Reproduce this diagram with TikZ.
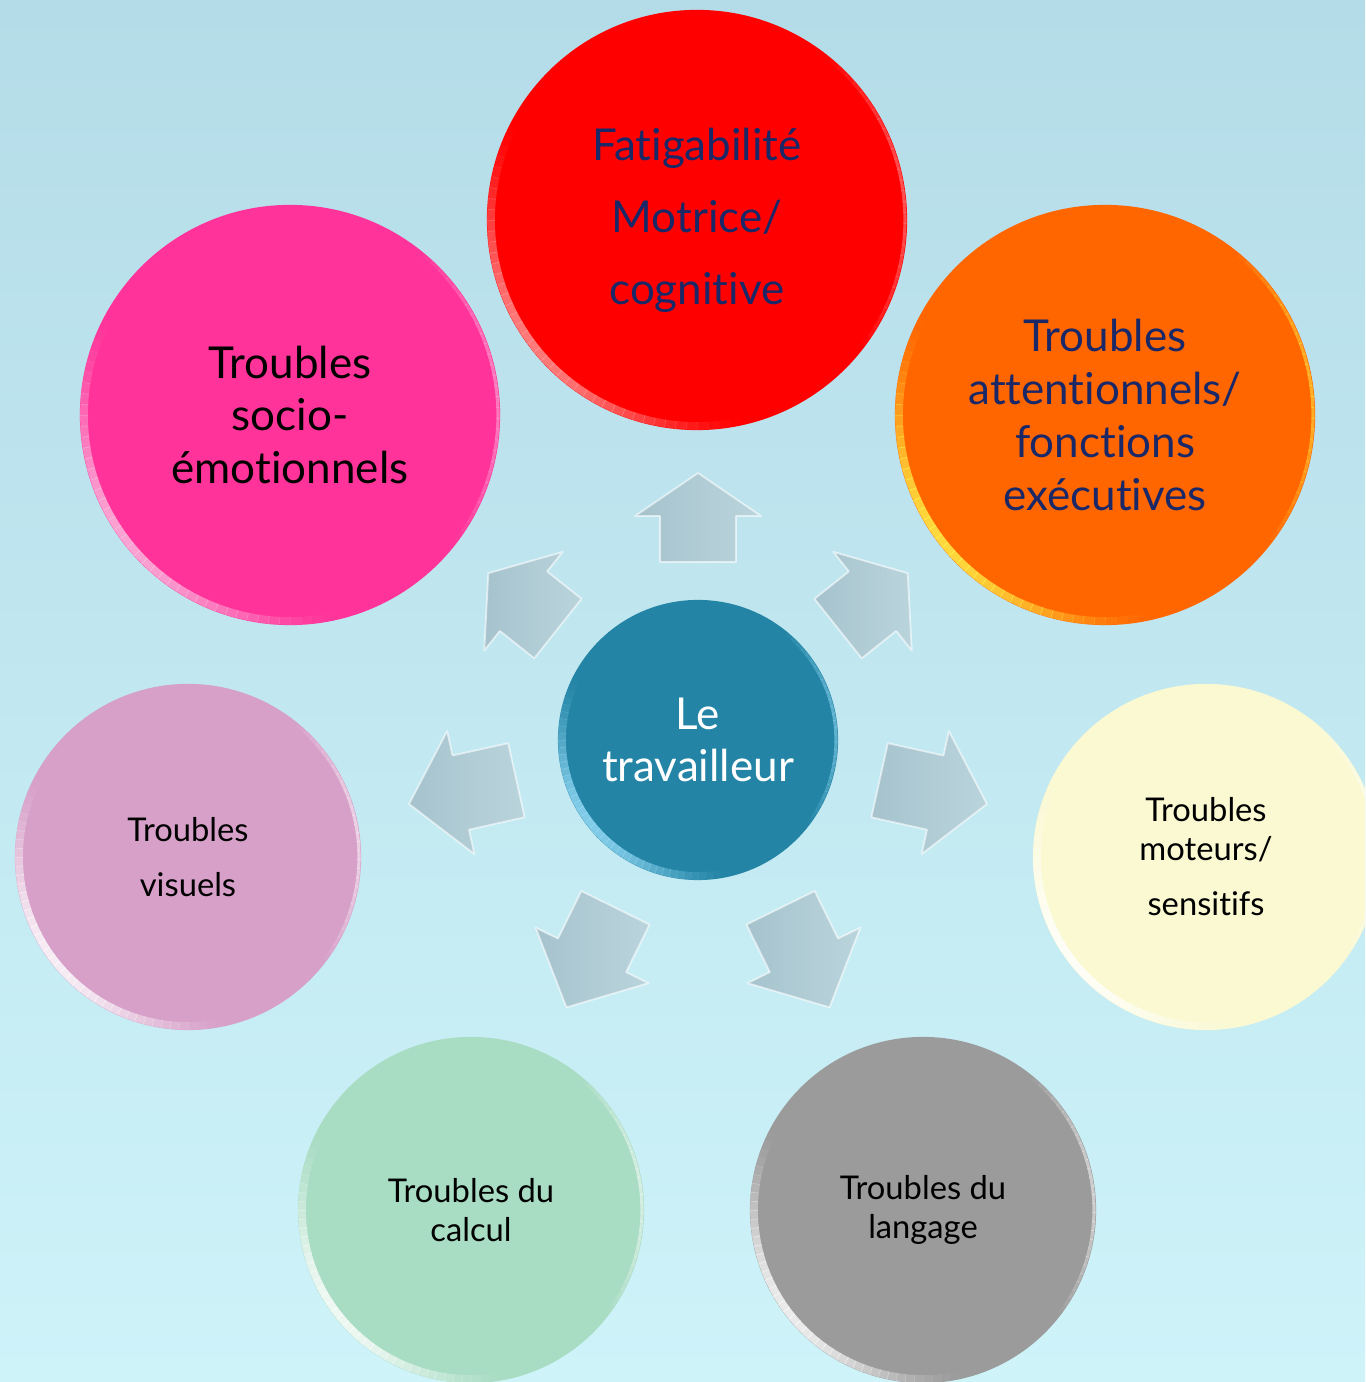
\documentclass[tikz,border=0pt]{standalone}
\usepackage{fontspec}
\setmainfont{Lato}[RawFeature={-liga;-dlig}]
\usetikzlibrary{calc}

\definecolor{bgtop}{RGB}{180,220,232}
\definecolor{bgbot}{RGB}{206,243,249}
\definecolor{navy}{RGB}{26,40,104}
\definecolor{cred}{RGB}{255,0,0}
\definecolor{cpink}{RGB}{255,51,153}
\definecolor{corange}{RGB}{255,102,0}
\definecolor{cteal}{RGB}{35,132,165}
\definecolor{cmauve}{RGB}{215,160,201}
\definecolor{cpale}{RGB}{250,249,210}
\definecolor{cmint}{RGB}{168,220,195}
\definecolor{cgrey}{RGB}{155,155,155}
\definecolor{arrdark}{RGB}{166,195,205}
\definecolor{arrlight}{RGB}{186,212,220}

\newcommand\bigtxt{\fontsize{12.5}{15}\selectfont}
\newcommand\smalltxt{\fontsize{9.3}{11.1}\selectfont}

\tikzset{
  bubble/.style={circle, inner sep=0pt, align=center},
  blockarrow/.style={left color=arrdark, right color=arrlight,
    draw=white, draw opacity=0.6, line width=0.5pt, line join=round},
}

% block arrow pointing away from the hub: angle, start distance, length, head length
\newcommand\outarrow[4]{%
  \begin{scope}[shift={(hub.center)}, rotate=#1]
    \path[blockarrow] (#2,-38) -- ({#2+#3-#4},-38) -- ({#2+#3-#4},-63)
      -- ({#2+#3},0) -- ({#2+#3-#4},63) -- ({#2+#3-#4},38) -- (#2,38) -- cycle;
  \end{scope}}

% glossy rim on a bubble, fading in and out along the edge: node, radius, highlight colour
\newcommand\glossrim[3]{%
  \begin{scope}[shift={(#1.center)}]
    \foreach \a in {150,153,...,279} {
      \pgfmathsetmacro\op{0.8*sin((\a-150)/132*180)^1.5}
      \draw[#3, line width=2.2pt, opacity=\op, line cap=butt]
        (\a:{#2-4}) arc[start angle=\a, end angle=\a+3.2, radius=#2-4];
    }
    \foreach \a in {-40,-37,...,47} {
      \pgfmathsetmacro\op{0.5*sin((\a+40)/90*180)}
      \draw[#3, line width=0.9pt, opacity=\op, line cap=butt]
        (\a:{#2-2}) arc[start angle=\a, end angle=\a+3.2, radius=#2-2];
    }
  \end{scope}}

\begin{document}
\begin{tikzpicture}[x=0.01cm, y=0.01cm]
\useasboundingbox (0,0) rectangle (1365,1382);
\clip (0,0) rectangle (1365,1382);

% background
\shade[top color=bgtop, bottom color=bgbot] (0,0) rectangle (1365,1382);

% bubbles
\node[bubble, fill=cteal, minimum size=2.8cm, text=white, font=\bigtxt] (hub) at (698,642)
  {Le\\travailleur};
\node[bubble, fill=cred, minimum size=4.2cm, text=navy, font=\bigtxt] (fatigue) at (697,1162)
  {Fatigabilité\\[5.5pt]Motrice/\\[5.5pt]cognitive};
\node[bubble, fill=corange, minimum size=4.2cm, text=navy, font=\bigtxt] (attention) at (1105,967)
  {Troubles\\attentionnels/\\fonctions\\exécutives};
\node[bubble, fill=cpink, minimum size=4.2cm, text=black, font=\bigtxt] (socio) at (290,967)
  {Troubles\\socio-\\émotionnels};
\node[bubble, fill=cmauve, minimum size=3.46cm, text=black, font=\smalltxt] (visuels) at (188,525)
  {Troubles\\[4.5pt]visuels};
\node[bubble, fill=cpale, minimum size=3.46cm, text=black, font=\smalltxt] (moteurs) at (1206,525)
  {Troubles\\moteurs/\\[4.5pt]sensitifs};
\node[bubble, fill=cmint, minimum size=3.46cm, text=black, font=\smalltxt] (calcul) at (471,172)
  {Troubles du\\calcul};
\node[bubble, fill=cgrey, minimum size=3.46cm, text=black, font=\smalltxt] (langage) at (923,172)
  {Troubles du\\langage};

% glossy rims
\glossrim{hub}{140}{cyan!40!white}
\glossrim{fatigue}{210}{red!40!white}
\glossrim{attention}{210}{yellow!70!white}
\glossrim{socio}{210}{magenta!25!white}
\glossrim{visuels}{173}{white}
\glossrim{moteurs}{173}{white}
\glossrim{calcul}{173}{white}
\glossrim{langage}{173}{white}

% arrows from the hub towards each bubble
\outarrow{90}{178}{89}{43}
\outarrow{38.5}{179}{89}{45}
\outarrow{141.5}{179}{89}{45}
\outarrow{-12.5}{186}{110}{53}
\outarrow{192.5}{186}{110}{53}
\outarrow{-63.8}{187}{111}{58}
\outarrow{-116.2}{187}{111}{58}
\end{tikzpicture}
\end{document}
